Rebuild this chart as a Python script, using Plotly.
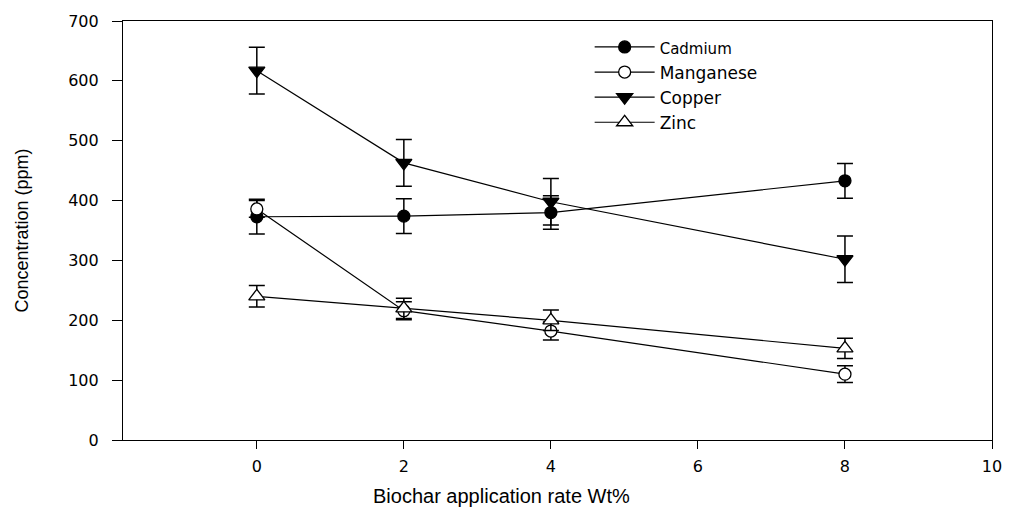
import plotly.graph_objects as go

rates = [0, 2, 4, 8]
cadmium = [373, 374, 380, 433]
cadmium_err = [29, 29, 28, 29]
manganese = [386, 216, 182, 110]
manganese_err = [14, 15, 15, 14]
copper = [617, 463, 398, 302]
copper_err = [39, 39, 39, 39]
zinc = [240, 220, 200, 153]
zinc_err = [18, 17, 17, 17]

x_ticks = [0, 2, 4, 6, 8, 10]
y_ticks = [0, 100, 200, 300, 400, 500, 600, 700]

series = [
    ("<span style='font-size:15px'>Cadmium</span>", cadmium, cadmium_err, "circle", "black", 12),
    ("Manganese", manganese, manganese_err, "circle", "white", 12),
    ("Copper", copper, copper_err, "triangle-down", "black", 14),
    ("Zinc", zinc, zinc_err, "triangle-up", "white", 14),
]

fig = go.Figure()
for name, vals, errs, sym, fill, sz in series:
    fig.add_trace(go.Scatter(
        x=rates, y=vals, name=name, mode="lines+markers",
        line=dict(color="black", width=1.2),
        marker=dict(symbol=sym, size=sz, color=fill, line=dict(color="black", width=1.3)),
        error_y=dict(type="data", array=errs, visible=True, color="black", thickness=1.5, width=8),
    ))

tick_font = dict(family="DejaVu Sans, Liberation Sans, sans-serif", size=16, color="black")

fig.update_layout(
    width=1014, height=515,
    margin=dict(l=123, r=20, t=16, b=75),
    plot_bgcolor="white", paper_bgcolor="white",
    font=dict(family="Liberation Sans, Arial, sans-serif", color="black", size=15),
    showlegend=True,
    legend=dict(x=0.537, y=0.98, xanchor="left", yanchor="top",
                bgcolor="rgba(0,0,0,0)",
                font=dict(size=17, family="DejaVu Sans, Liberation Sans, sans-serif"),
                tracegroupgap=0, itemwidth=60),
    xaxis=dict(range=[-1.82, 10], tickvals=x_ticks, ticks="outside", ticklen=8,
               tickcolor="black", showline=True, linecolor="black", linewidth=1.2,
               mirror=True, showgrid=False, zeroline=False, tickfont=tick_font,
               ticklabelstandoff=4),
    yaxis=dict(range=[0, 700], tickvals=y_ticks, ticks="outside", ticklen=10,
               tickcolor="black", showline=True, linecolor="black", linewidth=1.2,
               mirror=True, showgrid=False, zeroline=False, tickfont=tick_font,
               ticklabelstandoff=10,
               title=dict(text="Concentration (ppm)", standoff=34,
                          font=dict(size=18, family="Liberation Sans, Arial, sans-serif"))),
    annotations=[dict(text="Biochar application rate Wt%", xref="paper", yref="paper",
                      x=0.435, y=-0.134, xanchor="center", yanchor="middle",
                      showarrow=False,
                      font=dict(size=20, family="Liberation Sans, Arial, sans-serif"))],
)

fig.write_html("out.html")
